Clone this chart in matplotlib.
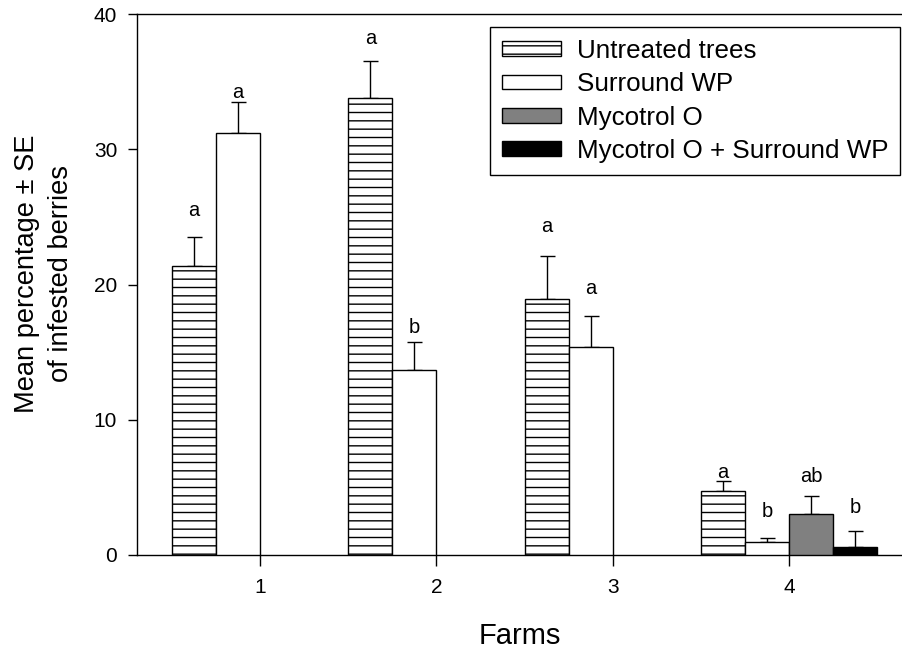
import numpy as np
import matplotlib.pyplot as plt

plt.rcParams['font.family'] = ['Liberation Sans', 'DejaVu Sans']
plt.rcParams['hatch.linewidth'] = 1.0

farms = [1, 2, 3, 4]
treatments = ['Untreated trees', 'Surround WP', 'Mycotrol O', 'Mycotrol O + Surround WP']

# mean percentage of infested berries (nan = not tested on that farm)
untreated = [21.4, 33.8, 18.9, 4.7]
surround = [31.2, 13.7, 15.4, 0.96]
mycotrol = [np.nan, np.nan, np.nan, 3.0]
myco_surround = [np.nan, np.nan, np.nan, 0.6]

untreated_se = [2.1, 2.7, 3.2, 0.8]
surround_se = [2.3, 2.05, 2.3, 0.3]
mycotrol_se = [np.nan, np.nan, np.nan, 1.33]
myco_surround_se = [np.nan, np.nan, np.nan, 1.18]

# significance letters and the height they sit at
untreated_letters = ['a', 'a', 'a', 'a']
surround_letters = ['a', 'b', 'a', 'b']
mycotrol_letters = ['', '', '', 'ab']
myco_surround_letters = ['', '', '', 'b']
untreated_letter_y = [25.5, 38.2, 24.3, 6.1]
surround_letter_y = [34.2, 16.8, 19.7, 3.2]
mycotrol_letter_y = [np.nan, np.nan, np.nan, 5.8]
myco_surround_letter_y = [np.nan, np.nan, np.nan, 3.5]

means = [untreated, surround, mycotrol, myco_surround]
errors = [untreated_se, surround_se, mycotrol_se, myco_surround_se]
letters = [untreated_letters, surround_letters, mycotrol_letters, myco_surround_letters]
letter_y = [untreated_letter_y, surround_letter_y, mycotrol_letter_y, myco_surround_letter_y]

styles = [dict(color='white', hatch='--'),
          dict(color='white'),
          dict(color='#808080'),
          dict(color='black')]

fig = plt.figure(figsize=(9.02, 6.51), dpi=100)
ax = fig.add_axes([137 / 902, 1 - 555 / 651, 1 - 137 / 902, (555 - 14) / 651])

width = 0.25
x = np.array(farms, dtype=float)
for i in range(4):
    pos = x + (i - 1.5) * width
    ax.bar(pos, means[i], width, edgecolor='black', linewidth=1.0,
           label=treatments[i], zorder=3, **styles[i])
    ax.errorbar(pos, means[i], yerr=[np.zeros(4), errors[i]], fmt='none',
                ecolor='black', elinewidth=1.0, capsize=5.4, capthick=1.0, zorder=2)
    for p, txt, ty in zip(pos, letters[i], letter_y[i]):
        if txt:
            ax.text(p, ty, txt, ha='center', va='center', fontsize=14.5)

ax.set_xlim(0.302, 4.64)
ax.set_ylim(0, 40)
ax.set_xticks(farms)
ax.set_yticks([0, 10, 20, 30, 40])
ax.tick_params(axis='y', direction='out', length=6.3, width=1, labelsize=15, pad=8)
ax.tick_params(axis='x', direction='out', length=8, width=1, labelsize=15, pad=8.5)
ax.spines['right'].set_visible(False)
for s in ['top', 'bottom', 'left']:
    ax.spines[s].set_linewidth(1.0)

ax.set_xlabel('Farms', fontsize=21, labelpad=18)
ax.set_ylabel('Mean percentage ± SE\nof infested berries', fontsize=19.6, linespacing=1.35)
ax.yaxis.set_label_coords((44 - 137) / 765, 0.52)
ax.yaxis.label.set_va('center')

leg = ax.legend(loc='upper right', bbox_to_anchor=(0.9974, 0.976), fontsize=18.7,
                frameon=True, fancybox=False, edgecolor='black', framealpha=1,
                handlelength=2.3, handleheight=0.5, handletextpad=0.58,
                labelspacing=0.36, borderpad=0.46, borderaxespad=0.0)
leg.get_frame().set_linewidth(1.0)

fig.savefig('out.png', dpi=100)
